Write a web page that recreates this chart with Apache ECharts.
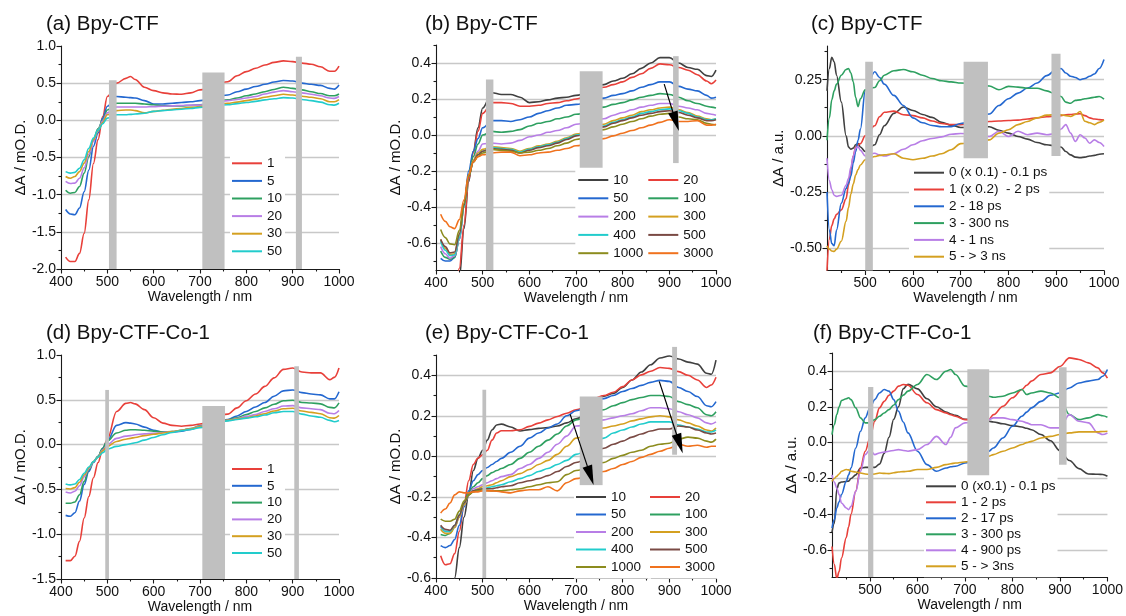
<!DOCTYPE html>
<html>
<head>
<meta charset="utf-8">
<script src="https://cdn.jsdelivr.net/npm/echarts@6/dist/echarts.min.js"></script>
<style>
html, body { margin: 0; padding: 0; background: #fff; }
#chart { width: 1126px; height: 616px; }
</style>
</head>
<body>
<div id="chart"></div>
<script>
// ---- tick values ----
const xMajor = [400, 500, 600, 700, 800, 900, 1000];
const xMajorShort = [500, 600, 700, 800, 900, 1000];
const xMinor = [450, 550, 650, 750, 850, 950];
const yMajorA = [-2, -1.5, -1, -0.5, 0, 0.5, 1];
const yMinorA = [-1.75, -1.25, -0.75, -0.25, 0.25, 0.75];
const yMajorD = [-1.5, -1, -0.5, 0, 0.5, 1];
const yMinorD = [-1.25, -0.75, -0.25, 0.25, 0.75];
const yMajorB = [-0.6, -0.4, -0.2, 0, 0.2, 0.4];
const yMinorB = [-0.7, -0.5, -0.3, -0.1, 0.1, 0.3, 0.5];
const yMinorE = [-0.5, -0.3, -0.1, 0.1, 0.3, 0.5];
const yMajorC = [-0.5, -0.25, 0, 0.25];
const yMinorC = [-0.375, -0.125, 0.125, 0.375];

// ---- (a) Bpy-CTF, delay 1..50 ----
const wlA = [410,420,430,440,450,460,470,480,490,500,520,540,550,560,580,600,620,640,660,680,700,760,780,800,820,840,860,880,900,920,940,960,980,990,1000];
const a1  = [-1.84,-1.90,-1.90,-1.79,-1.52,-1.07,-0.58,-0.26,0.05,0.32,0.50,0.565,0.59,0.55,0.445,0.40,0.37,0.355,0.35,0.37,0.41,0.52,0.60,0.655,0.70,0.745,0.78,0.80,0.79,0.77,0.755,0.72,0.66,0.66,0.73];
const a5  = [-1.20,-1.26,-1.27,-1.18,-0.96,-0.67,-0.35,-0.17,0.03,0.19,0.32,0.31,0.305,0.30,0.265,0.22,0.22,0.23,0.24,0.25,0.265,0.34,0.385,0.42,0.455,0.485,0.515,0.535,0.53,0.50,0.485,0.47,0.43,0.42,0.475];
const a10 = [-0.94,-0.98,-0.97,-0.89,-0.71,-0.49,-0.26,-0.11,0.0,0.14,0.23,0.23,0.23,0.23,0.22,0.21,0.195,0.195,0.195,0.20,0.21,0.275,0.30,0.33,0.355,0.385,0.415,0.445,0.43,0.41,0.385,0.36,0.33,0.33,0.355];
const a20 = [-0.82,-0.85,-0.845,-0.78,-0.64,-0.46,-0.285,-0.13,-0.01,0.10,0.18,0.18,0.18,0.18,0.18,0.185,0.19,0.195,0.20,0.205,0.205,0.265,0.28,0.30,0.32,0.355,0.38,0.40,0.385,0.37,0.35,0.33,0.30,0.295,0.32];
const a30 = [-0.755,-0.78,-0.755,-0.69,-0.575,-0.42,-0.26,-0.14,-0.03,0.075,0.13,0.14,0.14,0.13,0.10,0.12,0.135,0.15,0.16,0.175,0.185,0.23,0.245,0.265,0.285,0.31,0.33,0.35,0.34,0.325,0.31,0.29,0.25,0.25,0.28];
const a50 = [-0.69,-0.71,-0.70,-0.645,-0.53,-0.375,-0.24,-0.13,-0.045,0.03,0.075,0.075,0.08,0.085,0.095,0.12,0.13,0.14,0.15,0.16,0.175,0.21,0.225,0.24,0.255,0.275,0.29,0.305,0.30,0.28,0.265,0.245,0.21,0.205,0.23];
const barsA = [[503.5,520,-2,0.54],[705,753,-2,0.645],[907,920,-2,0.855]];

// ---- (b) Bpy-CTF, delay 10..3000 ----
const wlB = [410,420,430,440,450,460,470,480,490,500,520,540,560,580,600,620,640,660,680,700,760,780,800,820,840,860,880,900,920,940,960,980,990,1000];
const b10   = [-1.0,-1.05,-1.0,-0.92,-0.80,-0.52,-0.26,-0.09,0.04,0.15,0.235,0.225,0.225,0.21,0.18,0.185,0.195,0.205,0.21,0.22,0.28,0.30,0.315,0.34,0.37,0.40,0.43,0.43,0.40,0.375,0.365,0.33,0.325,0.36];
const b20   = [-0.98,-1.02,-0.98,-0.88,-0.74,-0.50,-0.25,-0.10,0.02,0.12,0.18,0.18,0.175,0.16,0.16,0.165,0.175,0.18,0.19,0.20,0.265,0.28,0.295,0.32,0.34,0.37,0.395,0.39,0.375,0.36,0.335,0.30,0.285,0.305];
const b50   = [-0.685,-0.70,-0.70,-0.68,-0.58,-0.39,-0.20,-0.09,-0.02,0.04,0.08,0.08,0.075,0.085,0.10,0.12,0.135,0.15,0.165,0.17,0.205,0.22,0.23,0.245,0.265,0.28,0.295,0.295,0.27,0.255,0.245,0.22,0.205,0.21];
const b100  = [-0.645,-0.68,-0.69,-0.68,-0.58,-0.40,-0.22,-0.12,-0.05,0.0,0.02,0.015,0.02,0.03,0.05,0.065,0.075,0.09,0.10,0.115,0.155,0.17,0.18,0.195,0.21,0.22,0.23,0.225,0.21,0.19,0.175,0.16,0.155,0.15];
const b200  = [-0.62,-0.66,-0.685,-0.67,-0.58,-0.40,-0.23,-0.14,-0.09,-0.05,-0.045,-0.05,-0.045,-0.03,-0.01,0.0,0.015,0.025,0.04,0.06,0.09,0.11,0.125,0.14,0.155,0.165,0.175,0.175,0.16,0.15,0.14,0.12,0.115,0.11];
const b300  = [-0.58,-0.63,-0.665,-0.66,-0.56,-0.40,-0.23,-0.14,-0.10,-0.08,-0.065,-0.07,-0.075,-0.09,-0.075,-0.06,-0.05,-0.035,-0.015,0.005,0.06,0.08,0.095,0.11,0.13,0.14,0.15,0.155,0.14,0.125,0.105,0.09,0.085,0.09];
const b400  = [-0.59,-0.64,-0.67,-0.665,-0.57,-0.40,-0.23,-0.15,-0.11,-0.09,-0.07,-0.075,-0.08,-0.095,-0.08,-0.065,-0.055,-0.04,-0.02,0.0,0.05,0.07,0.085,0.10,0.12,0.13,0.14,0.145,0.135,0.12,0.10,0.085,0.085,0.09];
const b500  = [-0.58,-0.62,-0.655,-0.65,-0.55,-0.39,-0.23,-0.15,-0.11,-0.09,-0.075,-0.08,-0.085,-0.10,-0.085,-0.07,-0.06,-0.045,-0.025,-0.005,0.045,0.065,0.08,0.095,0.11,0.12,0.13,0.135,0.125,0.11,0.095,0.08,0.08,0.085];
const b1000 = [-0.525,-0.57,-0.605,-0.61,-0.53,-0.38,-0.23,-0.15,-0.12,-0.10,-0.08,-0.085,-0.09,-0.10,-0.095,-0.085,-0.075,-0.06,-0.045,-0.025,0.03,0.045,0.06,0.075,0.09,0.105,0.115,0.12,0.10,0.09,0.085,0.065,0.06,0.055];
const b3000 = [-0.44,-0.48,-0.51,-0.52,-0.47,-0.36,-0.22,-0.15,-0.12,-0.11,-0.10,-0.095,-0.095,-0.115,-0.11,-0.10,-0.095,-0.085,-0.075,-0.06,-0.02,-0.005,0.01,0.025,0.04,0.055,0.07,0.085,0.075,0.075,0.08,0.055,0.055,0.06];
const barsB = [[507,523,-0.75,0.308],[708,757,-0.184,0.354],[908,920,-0.156,0.438]];
const arrowsB = [[[889,0.283],[914,0.075]]];

// ---- (c) Bpy-CTF, global-fit components ----
const wlC = [420,425,430,435,440,450,460,465,470,475,480,485,490,500,520,530,540,560,580,600,620,640,660,680,700,760,780,800,820,840,860,880,900,910,920,930,940,950,960,970,980,990,1000];
const c0 = [0.20,0.30,0.35,0.33,0.27,0.15,0.0,-0.05,-0.06,-0.055,-0.04,-0.035,-0.05,-0.07,-0.04,0.005,0.045,0.10,0.128,0.113,0.095,0.082,0.06,0.047,0.037,0.04,0.025,0.012,-0.003,-0.015,-0.03,-0.04,-0.045,-0.05,-0.07,-0.085,-0.095,-0.097,-0.095,-0.09,-0.087,-0.082,-0.08];
const c1 = [-0.60,-0.46,-0.40,-0.37,-0.35,-0.33,-0.28,-0.22,-0.15,-0.09,-0.05,-0.04,-0.035,0.0,0.045,0.085,0.105,0.11,0.094,0.09,0.08,0.066,0.055,0.05,0.05,0.064,0.066,0.068,0.07,0.075,0.08,0.085,0.088,0.09,0.094,0.095,0.097,0.098,0.09,0.08,0.075,0.072,0.07];
const c2 = [-0.25,-0.42,-0.48,-0.49,-0.42,-0.30,-0.235,-0.21,-0.18,-0.12,-0.07,-0.02,0.03,0.20,0.285,0.26,0.23,0.18,0.135,0.08,0.058,0.046,0.04,0.041,0.055,0.097,0.135,0.165,0.19,0.213,0.235,0.268,0.295,0.30,0.28,0.265,0.26,0.25,0.255,0.265,0.275,0.30,0.34];
const c3 = [-0.02,0.08,0.16,0.20,0.23,0.27,0.295,0.30,0.28,0.24,0.17,0.13,0.165,0.205,0.215,0.245,0.27,0.29,0.295,0.285,0.27,0.255,0.245,0.24,0.235,0.222,0.205,0.22,0.217,0.212,0.212,0.20,0.185,0.175,0.15,0.145,0.158,0.16,0.165,0.168,0.172,0.175,0.163];
const c4 = [-0.10,-0.20,-0.24,-0.265,-0.27,-0.265,-0.22,-0.19,-0.14,-0.09,-0.055,-0.048,-0.065,-0.09,-0.078,-0.085,-0.09,-0.08,-0.06,-0.04,-0.022,-0.012,-0.005,0.007,0.01,-0.003,0.02,-0.003,0.02,0.005,0.012,0.005,0.01,0.03,0.05,0.012,-0.025,0.005,-0.01,-0.033,-0.018,-0.03,-0.048];
const c5 = [-0.49,-0.505,-0.513,-0.515,-0.505,-0.47,-0.38,-0.32,-0.26,-0.215,-0.175,-0.15,-0.13,-0.107,-0.092,-0.087,-0.085,-0.08,-0.10,-0.107,-0.10,-0.09,-0.08,-0.062,-0.035,-0.018,0.012,0.027,0.05,0.064,0.08,0.092,0.094,0.094,0.09,0.086,0.095,0.108,0.065,0.058,0.05,0.06,0.07];
const barsC = [[500,516,-0.6,0.33],[706,757,-0.10,0.33],[890,909,-0.09,0.365]];

// ---- (d) Bpy-CTF-Co-1, delay 1..50 ----
const wlD = wlA;
const d1  = [-1.295,-1.295,-1.246,-1.08,-0.82,-0.58,-0.37,-0.20,-0.05,0.06,0.37,0.46,0.47,0.455,0.39,0.30,0.24,0.215,0.205,0.215,0.23,0.34,0.41,0.49,0.565,0.65,0.745,0.84,0.855,0.81,0.80,0.80,0.725,0.75,0.855];
const d5  = [-0.79,-0.80,-0.76,-0.63,-0.445,-0.30,-0.20,-0.13,-0.04,0.04,0.215,0.245,0.24,0.23,0.195,0.16,0.14,0.14,0.15,0.17,0.20,0.28,0.32,0.37,0.42,0.47,0.54,0.60,0.61,0.58,0.565,0.555,0.51,0.51,0.59];
const d10 = [-0.655,-0.655,-0.64,-0.56,-0.41,-0.28,-0.19,-0.13,-0.04,0.04,0.13,0.16,0.165,0.165,0.16,0.15,0.14,0.145,0.16,0.18,0.21,0.275,0.30,0.335,0.37,0.41,0.45,0.49,0.495,0.47,0.465,0.455,0.415,0.41,0.465];
const d20 = [-0.53,-0.54,-0.52,-0.46,-0.36,-0.27,-0.19,-0.14,-0.06,0.0,0.07,0.095,0.10,0.11,0.12,0.125,0.135,0.145,0.16,0.175,0.205,0.27,0.29,0.315,0.335,0.37,0.40,0.43,0.435,0.41,0.40,0.39,0.35,0.345,0.38];
const d30 = [-0.49,-0.495,-0.48,-0.42,-0.34,-0.26,-0.19,-0.14,-0.07,-0.02,0.035,0.06,0.07,0.08,0.10,0.115,0.13,0.145,0.16,0.175,0.20,0.27,0.285,0.30,0.32,0.345,0.375,0.40,0.405,0.375,0.36,0.345,0.30,0.295,0.325];
const d50 = [-0.44,-0.45,-0.44,-0.39,-0.32,-0.25,-0.19,-0.14,-0.09,-0.05,-0.02,0.0,0.01,0.02,0.05,0.08,0.11,0.135,0.155,0.17,0.19,0.265,0.28,0.295,0.31,0.33,0.355,0.37,0.37,0.34,0.32,0.305,0.27,0.255,0.27];
const barsD = [[495.5,503.5,-1.5,0.61],[705,754,-1.5,0.43],[903.5,913.5,-1.5,0.875]];

// ---- (e) Bpy-CTF-Co-1, delay 10..3000 ----
const wlE = [410,420,430,440,450,460,470,480,490,500,510,520,530,540,560,580,600,620,640,660,680,700,760,780,800,820,840,860,880,900,920,940,960,980,990,1000];
const e10   = [-0.85,-0.85,-0.78,-0.60,-0.45,-0.30,-0.19,-0.07,-0.01,0.03,0.08,0.13,0.155,0.159,0.145,0.125,0.132,0.138,0.142,0.15,0.165,0.185,0.297,0.31,0.34,0.377,0.416,0.452,0.485,0.495,0.48,0.465,0.455,0.41,0.405,0.475];
const e20   = [-0.49,-0.535,-0.53,-0.48,-0.37,-0.24,-0.12,-0.04,-0.008,0.008,0.03,0.08,0.115,0.126,0.126,0.131,0.148,0.164,0.18,0.197,0.213,0.23,0.30,0.316,0.344,0.377,0.402,0.42,0.438,0.434,0.418,0.40,0.377,0.34,0.352,0.39];
const e50   = [-0.44,-0.45,-0.44,-0.41,-0.34,-0.25,-0.17,-0.12,-0.09,-0.07,-0.055,-0.04,-0.025,-0.01,0.02,0.05,0.09,0.115,0.14,0.16,0.20,0.225,0.285,0.30,0.32,0.335,0.35,0.365,0.375,0.37,0.34,0.32,0.295,0.25,0.245,0.27];
const e100  = [-0.385,-0.39,-0.38,-0.35,-0.29,-0.23,-0.18,-0.15,-0.13,-0.11,-0.095,-0.08,-0.07,-0.06,-0.04,-0.01,0.02,0.05,0.08,0.11,0.15,0.18,0.23,0.25,0.265,0.28,0.29,0.30,0.30,0.295,0.27,0.255,0.24,0.205,0.2,0.22];
const e200  = [-0.35,-0.37,-0.37,-0.35,-0.30,-0.24,-0.19,-0.16,-0.15,-0.14,-0.13,-0.12,-0.11,-0.10,-0.09,-0.06,-0.04,-0.01,0.02,0.06,0.10,0.15,0.18,0.19,0.20,0.21,0.225,0.24,0.24,0.235,0.22,0.205,0.19,0.165,0.16,0.17];
const e300  = [-0.36,-0.38,-0.38,-0.35,-0.30,-0.24,-0.19,-0.17,-0.16,-0.15,-0.145,-0.14,-0.13,-0.12,-0.10,-0.085,-0.065,-0.04,-0.02,0.01,0.05,0.09,0.14,0.15,0.16,0.175,0.185,0.195,0.20,0.195,0.18,0.165,0.15,0.13,0.125,0.14];
const e400  = [-0.345,-0.37,-0.37,-0.34,-0.29,-0.23,-0.19,-0.17,-0.165,-0.16,-0.155,-0.15,-0.145,-0.14,-0.125,-0.11,-0.095,-0.075,-0.06,-0.04,-0.02,0.01,0.09,0.115,0.13,0.145,0.16,0.17,0.17,0.17,0.155,0.145,0.135,0.12,0.12,0.13];
const e500  = [-0.34,-0.36,-0.365,-0.34,-0.29,-0.23,-0.19,-0.17,-0.165,-0.16,-0.16,-0.16,-0.155,-0.15,-0.145,-0.13,-0.12,-0.11,-0.095,-0.075,-0.05,-0.03,0.04,0.06,0.075,0.095,0.11,0.125,0.135,0.135,0.15,0.145,0.13,0.115,0.11,0.115];
const e1000 = [-0.31,-0.32,-0.32,-0.31,-0.27,-0.22,-0.19,-0.175,-0.17,-0.165,-0.168,-0.17,-0.17,-0.17,-0.165,-0.16,-0.15,-0.14,-0.13,-0.125,-0.09,-0.07,-0.03,-0.01,0.005,0.02,0.03,0.05,0.06,0.065,0.085,0.095,0.09,0.075,0.07,0.085];
const e3000 = [-0.28,-0.26,-0.23,-0.19,-0.175,-0.18,-0.18,-0.175,-0.175,-0.17,-0.17,-0.17,-0.172,-0.175,-0.18,-0.17,-0.165,-0.165,-0.15,-0.17,-0.13,-0.11,-0.075,-0.06,-0.04,-0.025,-0.005,0.01,0.025,0.04,0.06,0.05,0.055,0.045,0.05,0.05];
const barsE = [[499.5,507.5,-0.6,0.328],[708,757,-0.144,0.295],[906,916.5,0.008,0.54]];
const arrowsE = [[[687.5,0.207],[731,-0.095]],[[878.4,0.37],[922,0.062]]];

// ---- (f) Bpy-CTF-Co-1, global-fit components ----
const wlF = [420,425,430,435,440,450,455,460,470,480,490,500,510,520,530,540,550,560,570,580,600,620,640,660,670,680,700,750,760,780,800,820,830,840,860,880,900,920,940,960,980,990,1000];
const f0 = [-0.50,-0.45,-0.26,-0.225,-0.22,-0.217,-0.215,-0.2,-0.18,-0.142,-0.138,-0.138,-0.138,-0.12,-0.06,0.03,0.13,0.2,0.30,0.326,0.30,0.245,0.20,0.17,0.16,0.152,0.13,0.119,0.115,0.105,0.095,0.087,0.08,0.072,0.045,0.01,-0.045,-0.10,-0.145,-0.175,-0.177,-0.178,-0.188];
const f1 = [-0.58,-0.68,-0.76,-0.72,-0.644,-0.53,-0.47,-0.40,-0.27,-0.14,-0.048,0.026,0.12,0.194,0.23,0.264,0.287,0.315,0.324,0.32,0.268,0.222,0.184,0.166,0.155,0.147,0.128,0.128,0.156,0.203,0.25,0.296,0.32,0.343,0.38,0.389,0.425,0.473,0.464,0.445,0.417,0.389,0.36];
const f2 = [-0.477,-0.43,-0.365,-0.33,-0.29,-0.216,-0.18,-0.142,-0.03,0.063,0.138,0.194,0.24,0.277,0.296,0.287,0.24,0.175,0.115,0.054,-0.048,-0.123,-0.16,-0.142,-0.135,-0.132,-0.114,-0.048,-0.03,0.026,0.091,0.147,0.17,0.194,0.23,0.264,0.277,0.305,0.333,0.343,0.352,0.37,0.408];
const f3 = [0.045,0.10,0.156,0.20,0.235,0.245,0.25,0.24,0.194,0.138,0.11,0.11,0.128,0.147,0.165,0.184,0.21,0.24,0.265,0.287,0.324,0.38,0.352,0.398,0.408,0.38,0.315,0.259,0.253,0.259,0.277,0.296,0.268,0.277,0.287,0.277,0.25,0.156,0.128,0.138,0.156,0.15,0.142];
const f4 = [-0.18,-0.22,-0.253,-0.29,-0.337,-0.365,-0.374,-0.356,-0.272,-0.16,-0.067,-0.039,-0.067,-0.058,-0.053,-0.048,-0.044,-0.039,-0.044,-0.048,-0.039,-0.011,0.035,-0.011,0.03,0.082,0.11,0.128,0.138,0.138,0.128,0.119,0.11,0.10,0.10,0.082,0.082,0.156,0.119,0.11,0.054,0.045,0.054];
const f5 = [-0.216,-0.2,-0.188,-0.175,-0.16,-0.15,-0.152,-0.16,-0.164,-0.17,-0.175,-0.179,-0.175,-0.17,-0.172,-0.173,-0.168,-0.164,-0.162,-0.16,-0.15,-0.15,-0.138,-0.123,-0.118,-0.114,-0.108,-0.076,-0.067,-0.048,-0.03,-0.011,0.0,0.007,0.026,0.035,0.045,0.054,0.06,0.06,0.06,0.062,0.063];
const barsF = [[496,507,-0.75,0.31],[705,751,-0.19,0.41],[898,914,-0.123,0.42]];

// ---- styling ----
const FONT = '"Liberation Sans", Arial, sans-serif';
const TXT = '#111';
const C = {
  red: '#e8403a', blue: '#2468d0', green: '#2ea060', purple: '#b87ee6',
  gold: '#d4a020', cyan: '#22cccc', black: '#404040', brown: '#7a4a44',
  olive: '#8c8c1e', orange: '#f0721e'
};

const panels = [
  { key: 'a', title: '(a) Bpy-CTF', tpos: [46, 14], grid: [61, 46, 278, 223],
    x: [400, 1000, xMajor], y: [-2, 1, yMajorA, yMinorA, 1], yName: 'ΔA / mO.D.', yGap: 33,
    wl: wlA, bars: barsA, arrows: [],
    lines: [['1', a1, C.red], ['5', a5, C.blue], ['10', a10, C.green], ['20', a20, C.purple], ['30', a30, C.gold], ['50', a50, C.cyan]],
    legends: [{ left: 230, first: 163.3, step: 17.6, pad: [3, 3, 3, 2], names: ['1', '5', '10', '20', '30', '50'] }] },
  { key: 'b', title: '(b) Bpy-CTF', tpos: [425, 14], grid: [436, 45, 280, 225],
    x: [400, 1000, xMajor], y: [-0.75, 0.5, yMajorB, yMinorB, 1], yName: 'ΔA / mO.D.', yGap: 29,
    wl: wlB, bars: barsB, arrows: arrowsB,
    lines: [['10', b10, C.black], ['20', b20, C.red], ['50', b50, C.blue], ['100', b100, C.green], ['200', b200, C.purple],
            ['300', b300, C.gold], ['400', b400, C.cyan], ['500', b500, C.brown], ['1000', b1000, C.olive], ['3000', b3000, C.orange]],
    legends: [{ left: 575.3, first: 180, step: 18.3, pad: [3, 10, 3, 3], names: ['10', '50', '200', '400', '1000'] },
              { left: 646.3, first: 180, step: 18.3, pad: [3, 6, 3, 2], names: ['20', '100', '300', '500', '3000'] }] },
  { key: 'c', title: '(c) Bpy-CTF', tpos: [811, 14], grid: [827, 46, 277, 224.5],
    x: [420, 1000, xMajorShort], y: [-0.6, 0.4, yMajorC, yMinorC, 2], yName: 'ΔA / a.u.', yGap: 41,
    wl: wlC, bars: barsC, arrows: [],
    lines: [['0 (x 0.1) - 0.1 ps', c0, C.black], ['1 (x 0.2)  - 2 ps', c1, C.red], ['2 - 18 ps', c2, C.blue],
            ['3 - 300 ns', c3, C.green], ['4 - 1 ns', c4, C.purple], ['5 - > 3 ns', c5, C.gold]],
    legends: [{ left: 909, first: 172.7, step: 16.8, pad: [3, 2, 3, 5],
                names: ['0 (x 0.1) - 0.1 ps', '1 (x 0.2)  - 2 ps', '2 - 18 ps', '3 - 300 ns', '4 - 1 ns', '5 - > 3 ns'] }] },
  { key: 'd', title: '(d) Bpy-CTF-Co-1', tpos: [46, 323], grid: [61, 355, 278, 224],
    x: [400, 1000, xMajor], y: [-1.5, 1, yMajorD, yMinorD, 1], yName: 'ΔA / mO.D.', yGap: 33,
    wl: wlD, bars: barsD, arrows: [],
    lines: [['1', d1, C.red], ['5', d5, C.blue], ['10', d10, C.green], ['20', d20, C.purple], ['30', d30, C.gold], ['50', d50, C.cyan]],
    legends: [{ left: 230, first: 469, step: 16.8, pad: [3, 3, 3, 2], names: ['1', '5', '10', '20', '30', '50'] }] },
  { key: 'e', title: '(e) Bpy-CTF-Co-1', tpos: [425, 323], grid: [436, 355, 280, 223],
    x: [400, 1000, xMajor], y: [-0.6, 0.5, yMajorB, yMinorE, 1], yName: 'ΔA / mO.D.', yGap: 28,
    wl: wlE, bars: barsE, arrows: arrowsE,
    lines: [['10', e10, C.black], ['20', e20, C.red], ['50', e50, C.blue], ['100', e100, C.green], ['200', e200, C.purple],
            ['300', e300, C.gold], ['400', e400, C.cyan], ['500', e500, C.brown], ['1000', e1000, C.olive], ['3000', e3000, C.orange]],
    legends: [{ left: 574, first: 497, step: 17.5, pad: [3, 10, 3, 2], names: ['10', '50', '200', '400', '1000'] },
              { left: 648, first: 497, step: 17.5, pad: [3, 6, 3, 2], names: ['20', '100', '300', '500', '3000'] }] },
  { key: 'f', title: '(f) Bpy-CTF-Co-1', tpos: [813, 323], grid: [832, 353, 278, 224],
    x: [420, 1000, xMajorShort], y: [-0.75, 0.5, yMajorB, yMinorB, 1], yName: 'ΔA / a.u.', yGap: 30,
    wl: wlF, bars: barsF, arrows: [],
    lines: [['0 (x0.1) - 0.1 ps', f0, C.black], ['1 - 2 ps', f1, C.red], ['2 - 17 ps', f2, C.blue],
            ['3 - 300 ps', f3, C.green], ['4 - 900 ps', f4, C.purple], ['5 - > 3ns', f5, C.gold]],
    legends: [{ left: 924, first: 486.3, step: 16, pad: [3, 2, 3, 2],
                names: ['0 (x0.1) - 0.1 ps', '1 - 2 ps', '2 - 17 ps', '3 - 300 ps', '4 - 900 ps', '5 - > 3ns'] }] }
];

const option = { animation: false, backgroundColor: '#fff', title: [], legend: [], grid: [], xAxis: [], yAxis: [], series: [] };

panels.forEach((p, i) => {
  const [xMin, xMax, xTicks] = p.x;
  const [yMin, yMax, yTicks, yMinorTicks, yDec] = p.y;
  const axisLineStyle = { color: '#1a1a1a', width: 1.1 };
  const labelStyle = { fontFamily: FONT, fontSize: 14, color: TXT };

  option.title.push({
    text: p.title, left: p.tpos[0], top: p.tpos[1], padding: 0,
    textStyle: { fontFamily: FONT, fontSize: 20.5, fontWeight: 'normal', color: TXT }
  });
  option.grid.push({ left: p.grid[0], top: p.grid[1], width: p.grid[2], height: p.grid[3] });

  // main x axis + minor-tick overlay
  option.xAxis.push({
    type: 'value', gridIndex: i, min: xMin, max: xMax, position: 'bottom',
    axisLine: { onZero: false, lineStyle: axisLineStyle },
    axisTick: { customValues: xTicks, length: 4.5, lineStyle: axisLineStyle },
    axisLabel: Object.assign({ customValues: xTicks, margin: 6, formatter: v => String(v) }, labelStyle),
    splitLine: { show: false },
    name: 'Wavelength / nm', nameLocation: 'middle', nameGap: 21,
    nameTextStyle: { fontFamily: FONT, fontSize: 14, color: TXT }
  }, {
    type: 'value', gridIndex: i, min: xMin, max: xMax, position: 'bottom',
    axisLine: { show: false, onZero: false },
    axisTick: { customValues: xMinor, length: 2.5, lineStyle: axisLineStyle },
    axisLabel: { show: false }, splitLine: { show: false }
  });

  // main y axis + minor-tick overlay
  option.yAxis.push({
    type: 'value', gridIndex: i, min: yMin, max: yMax, position: 'left',
    axisLine: { show: true, onZero: false, lineStyle: axisLineStyle },
    axisTick: { show: true, customValues: yTicks, length: 4.5, lineStyle: axisLineStyle },
    axisLabel: Object.assign({ customValues: yTicks, margin: 5, formatter: v => v.toFixed(yDec) }, labelStyle),
    splitLine: {
      show: true, lineStyle: { color: '#c8c8c8', width: 1.3 },
      showMinLine: yTicks[0] > yMin + 1e-9, showMaxLine: yTicks[yTicks.length - 1] < yMax - 1e-9
    },
    name: p.yName, nameLocation: 'middle', nameGap: p.yGap,
    nameTextStyle: { fontFamily: FONT, fontSize: 15, color: TXT }
  }, {
    type: 'value', gridIndex: i, min: yMin, max: yMax, position: 'left',
    axisLine: { show: false, onZero: false },
    axisTick: { show: true, customValues: yMinorTicks, length: 2.5, lineStyle: axisLineStyle },
    axisLabel: { show: false }, splitLine: { show: false }
  });

  const xi = 2 * i, yi = 2 * i;

  p.lines.forEach(([name, vals, color]) => {
    option.series.push({
      type: 'line', name: p.key + ':' + name, xAxisIndex: xi, yAxisIndex: yi,
      data: p.wl.map((w, k) => [w, vals[k]]),
      showSymbol: false, symbol: 'none', smooth: 0.35, smoothMonotone: 'x',
      lineStyle: { color, width: 1.6 }, itemStyle: { color }, z: 2, silent: true
    });
  });

  // grey masked regions
  option.series.push({
    type: 'custom', xAxisIndex: xi, yAxisIndex: yi, z: 3, silent: true,
    data: p.bars,
    encode: { x: [0, 1], y: [2, 3] },
    renderItem: (params, api) => {
      const p0 = api.coord([api.value(0), api.value(3)]);
      const p1 = api.coord([api.value(1), api.value(2)]);
      return { type: 'rect', shape: { x: p0[0], y: p0[1], width: p1[0] - p0[0], height: p1[1] - p0[1] },
               style: { fill: '#c0c0c0' } };
    }
  });

  if (p.arrows.length) {
    option.series.push({
      type: 'line', xAxisIndex: xi, yAxisIndex: yi, data: [], z: 4, silent: true,
      markLine: {
        silent: true, animation: false, symbol: ['none', 'triangle'], symbolSize: [10, 20],
        label: { show: false }, lineStyle: { color: '#000', width: 1.2, type: 'solid' },
        emphasis: { disabled: true },
        data: p.arrows.map(a => [{ coord: a[0] }, { coord: a[1] }])
      }
    });
  }

  p.legends.forEach(lg => {
    option.legend.push({
      orient: 'vertical', left: lg.left, top: lg.first - lg.step / 2 - lg.pad[0], padding: lg.pad,
      itemGap: 0, itemWidth: 30, itemHeight: 2, icon: 'rect',
      backgroundColor: '#fff', selectedMode: false, z: 5,
      data: lg.names.map(n => p.key + ':' + n),
      formatter: n => n.slice(2),
      textStyle: { fontFamily: FONT, fontSize: 13.5, color: TXT, lineHeight: lg.step }
    });
  });
});

const chart = echarts.init(document.getElementById('chart'), null, { renderer: 'canvas' });
chart.setOption(option);
</script>
</body>
</html>
